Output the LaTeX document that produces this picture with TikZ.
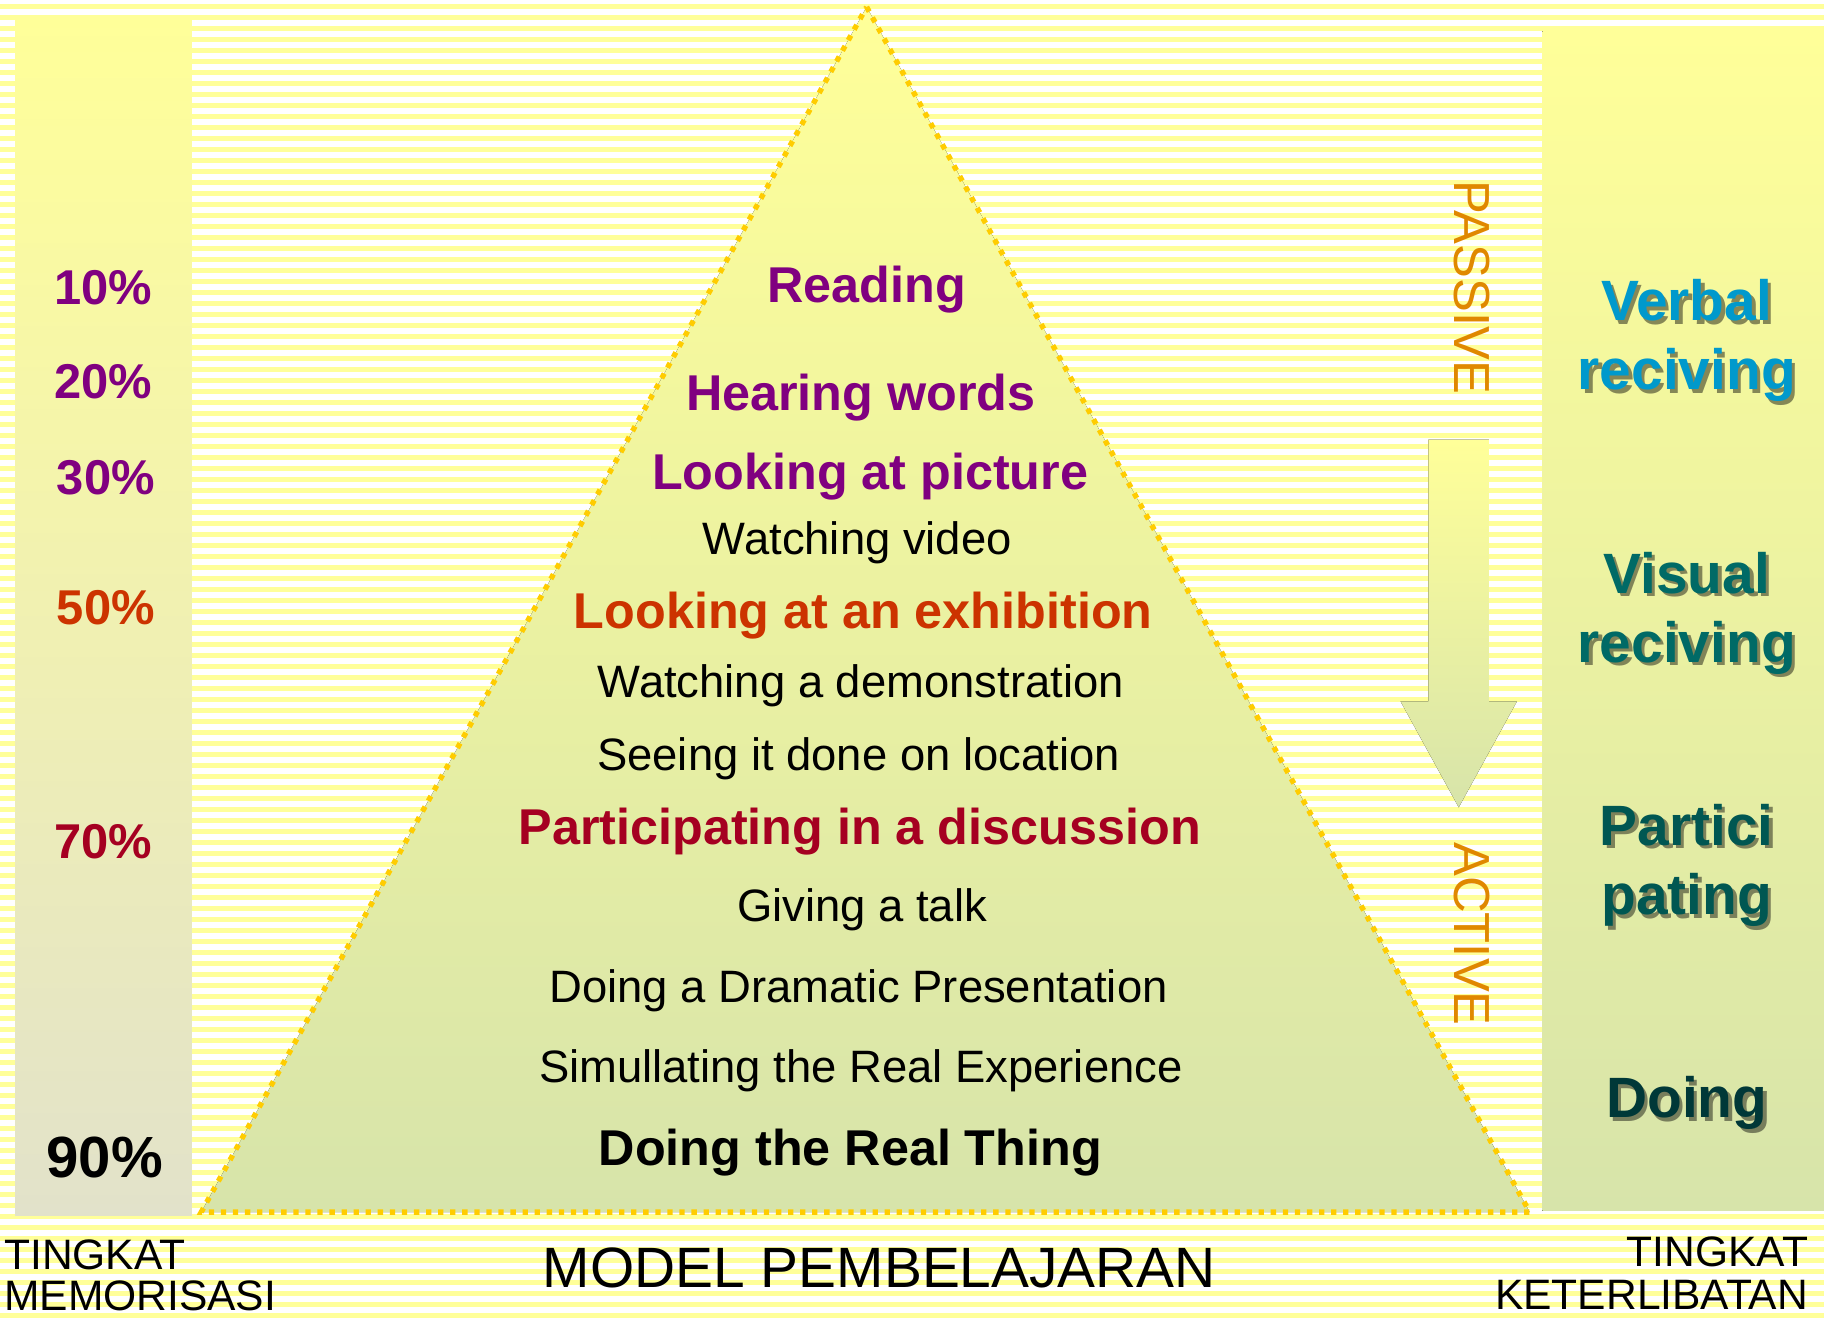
\documentclass[tikz,border=0pt]{standalone}
\usepackage{fontspec}
\setmainfont{Liberation Sans}
\definecolor{stripe}{HTML}{FFFF99}
\definecolor{paleTop}{HTML}{FFFF99}
\definecolor{paleBot}{HTML}{D7E4AA}
\definecolor{greyBot}{HTML}{E2E2CA}
\definecolor{rim}{HTML}{FFCC00}
\definecolor{purpleT}{HTML}{800080}
\definecolor{redT}{HTML}{CC3300}
\definecolor{crimsonT}{HTML}{A50021}
\definecolor{orangeT}{HTML}{E08800}
\definecolor{verbalC}{HTML}{0099CC}
\definecolor{visualC}{HTML}{006A66}
\definecolor{particC}{HTML}{005752}
\definecolor{doingC}{HTML}{003838}

\tikzset{
  bold/.style={font=\bfseries\fontsize{12.3}{14}\selectfont, anchor=base, inner sep=0pt},
  plain/.style={font=\fontsize{11.1}{13}\selectfont, anchor=base, inner sep=0pt},
  pct/.style={font=\bfseries\fontsize{11.95}{14}\selectfont, anchor=base, inner sep=0pt},
  rlabel/.style={font=\bfseries\fontsize{13.9}{16.9}\selectfont, align=center, inner sep=0pt},
  side/.style={font=\fontsize{12.4}{14}\selectfont, text=orangeT, rotate=-90, inner sep=0pt},
  foot/.style={font=\fontsize{10.4}{11}\selectfont, inner sep=0pt},
}

\begin{document}
\begin{tikzpicture}[x=0.01cm, y=-0.01cm]
\useasboundingbox (0,0) rectangle (1568,1132.2);
\foreach \k in {0,...,119}
  \fill[stripe] (0,3.44+9.456*\k) rectangle (1568,7.74+9.456*\k);

\fill[top color=paleTop, bottom color=greyBot] (13,13) rectangle (165,1045);
\fill[top color=paleTop, bottom color=paleBot] (1326,27) rectangle (1568,1041);

\coordinate (apex) at (745,6);
\coordinate (bl) at (173,1042);
\coordinate (br) at (1315,1042);
\fill[top color=paleTop, bottom color=paleBot] (apex) -- (br) -- (bl) -- cycle;
\draw[rim, line width=1.3pt, dash pattern=on 1.3pt off 1.65pt] (apex) -- (br) -- (bl) -- cycle;

\fill[top color=paleTop, bottom color=paleBot]
  (1228,378) -- (1280,378) -- (1280,603) -- (1304,603) -- (1254,694)
  -- (1204,603) -- (1228,603) -- cycle;

\node[bold, text=purpleT] (reading) at (745,260) {Reading};
\node[bold, text=purpleT] (hearing) at (740,353) {Hearing words};
\node[bold, text=purpleT] (picture) at (748,421) {Looking at picture};
\node[plain] (video) at (737,477) {Watching video};
\node[bold, text=redT] (exhibit) at (742,540) {Looking at an exhibition};
\node[plain] (demo) at (740,600) {Watching a demonstration};
\node[plain] (location) at (738,662) {Seeing it done on location};
\node[bold, text=crimsonT] (discuss) at (739,726) {Participating in a discussion};
\node[plain] (talk) at (741,792) {Giving a talk};
\node[plain] (drama) at (738,862) {Doing a Dramatic Presentation};
\node[plain] (simul) at (740,931) {Simullating the Real Experience};
\node[bold] (real) at (731,1002) {Doing the Real Thing};

\node[pct, text=purpleT] (p10) at (89,262) {10\%};
\node[pct, text=purpleT] (p20) at (89,343) {20\%};
\node[pct, text=purpleT] (p30) at (91,425) {30\%};
\node[pct, text=redT] (p50) at (91,537) {50\%};
\node[pct, text=crimsonT] (p70) at (89,738) {70\%};
\node[pct, font=\bfseries\fontsize{14.2}{16}\selectfont] (p90) at (90,1012) {90\%};

\node[side] (passive) at (1265,247) {PASSIVE};
\node[side] (active) at (1265,803) {ACTIVE};

\foreach \nm/\yy/\col/\txt in {verbal/293/verbalC/{Verbal\\reciving},
    visual/527/visualC/{Visual\\reciving}, partic/744/particC/{Partici\\pating}}
{
  \node[rlabel, text=black, opacity=0.45] at (1453,\yy+3) {\txt};
  \node[rlabel, text=\col] (\nm) at (1450,\yy) {\txt};
}
\node[rlabel, anchor=base, text=black, opacity=0.45] at (1453,964) {Doing};
\node[rlabel, anchor=base, text=doingC] (doing) at (1450,961) {Doing};

\node[foot, anchor=base west] (tk1) at (3,1091) {TINGKAT};
\node[foot, anchor=base west] (memo) at (3,1127) {MEMORISASI};
\node[font=\fontsize{13.9}{16}\selectfont, anchor=base, inner sep=0pt] (model) at (756,1106.5) {MODEL PEMBELAJARAN};
\node[foot, anchor=base east] (tk2) at (1555,1089) {TINGKAT};
\node[foot, anchor=base east] (keter) at (1555,1126) {KETERLIBATAN};
\end{tikzpicture}
\end{document}
